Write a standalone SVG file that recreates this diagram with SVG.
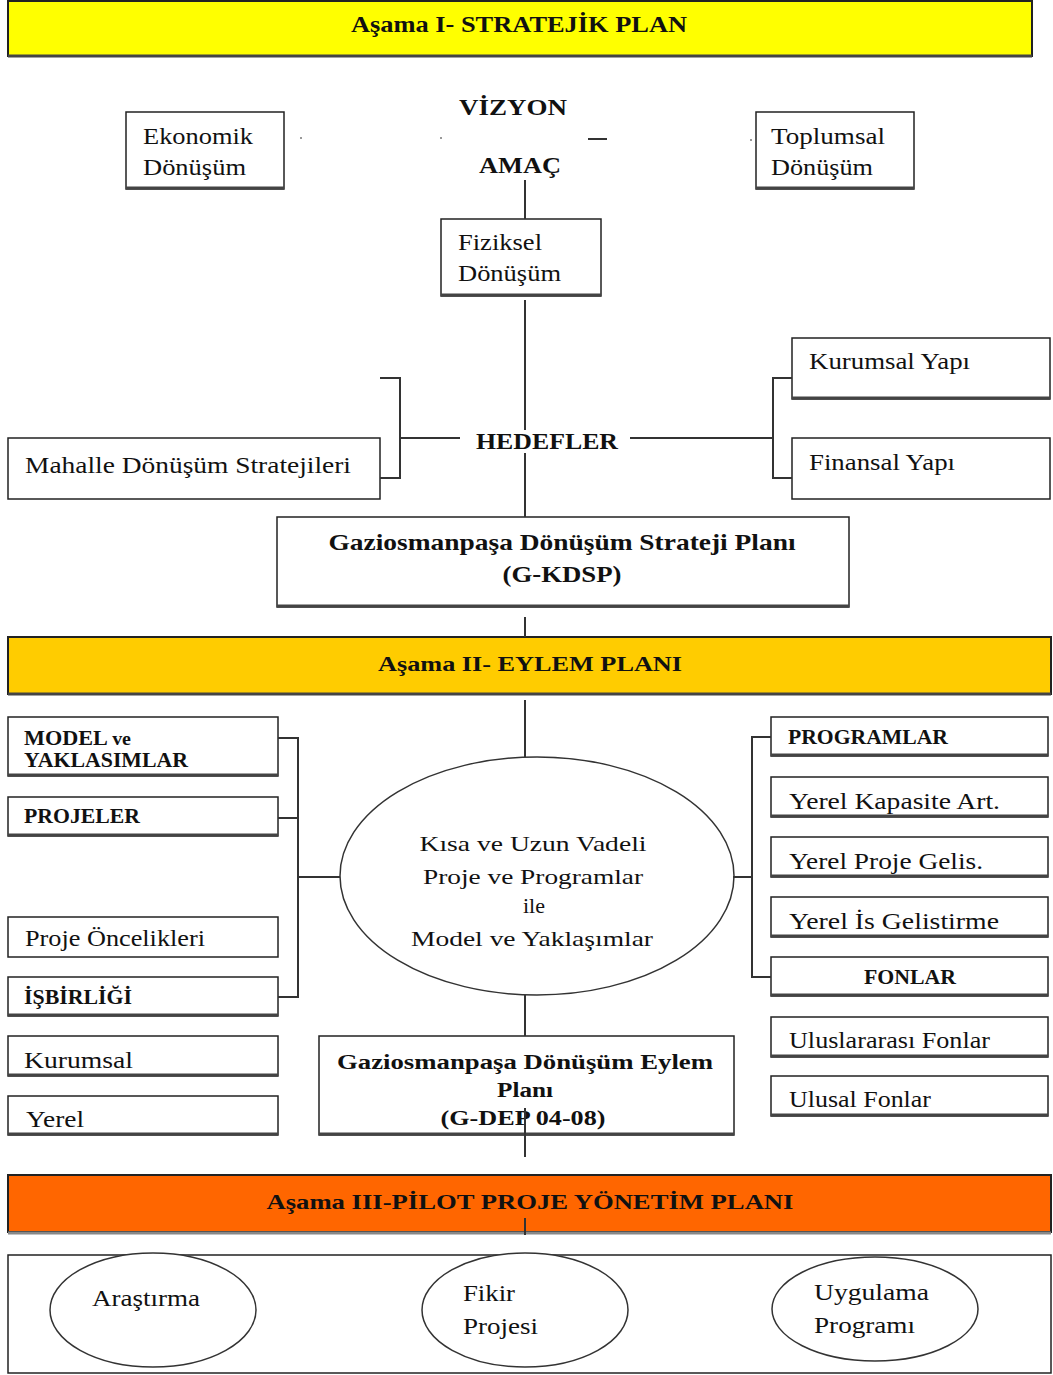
<svg xmlns="http://www.w3.org/2000/svg" width="1053" height="1375" viewBox="0 0 1053 1375">
<style>
text{font-family:"Liberation Serif","Times New Roman",serif;fill:#111}
.b{font-weight:bold}
.box{fill:#fff;stroke:#222;stroke-width:1.5}
.sh{stroke:#444;stroke-width:3;fill:none}
.ln{stroke:#333;stroke-width:2;fill:none}
.ell{fill:#fff;stroke:#333;stroke-width:1.5}
.n{font-size:24px}
.m{font-size:20px;font-weight:bold}
.h{font-size:24px;font-weight:bold}
</style>
<rect width="1053" height="1375" fill="#fff"/>

<g id="banner1">
<rect x="8" y="1" width="1024" height="55" fill="#ffff00" stroke="#222" stroke-width="2"/>
<line class="sh" x1="8" y1="56" x2="1032" y2="56"/>
<text class="h" x="519" y="32" text-anchor="middle" textLength="336" lengthAdjust="spacingAndGlyphs">Aşama I- STRATEJİK PLAN</text>
</g>

<g id="vizyon"><text class="h" x="513" y="115" text-anchor="middle" textLength="108" lengthAdjust="spacingAndGlyphs">VİZYON</text></g>
<g id="amac"><text class="h" x="520" y="173" text-anchor="middle" textLength="82" lengthAdjust="spacingAndGlyphs">AMAÇ</text></g>

<g id="ekonomik">
<rect class="box" x="126" y="112" width="158" height="77"/>
<line class="sh" x1="126" y1="188" x2="284" y2="188"/>
<text class="n" x="143" y="144" textLength="110" lengthAdjust="spacingAndGlyphs">Ekonomik</text>
<text class="n" x="143" y="175" textLength="103" lengthAdjust="spacingAndGlyphs">Dönüşüm</text>
</g>

<g id="toplumsal">
<rect class="box" x="756" y="112" width="158" height="77"/>
<line class="sh" x1="756" y1="188" x2="914" y2="188"/>
<text class="n" x="771" y="144" textLength="114" lengthAdjust="spacingAndGlyphs">Toplumsal</text>
<text class="n" x="771" y="175" textLength="102" lengthAdjust="spacingAndGlyphs">Dönüşüm</text>
</g>

<g id="fiziksel">
<rect class="box" x="441" y="219" width="160" height="77"/>
<line class="sh" x1="441" y1="295" x2="601" y2="295"/>
<text class="n" x="458" y="250" textLength="84" lengthAdjust="spacingAndGlyphs">Fiziksel</text>
<text class="n" x="458" y="281" textLength="103" lengthAdjust="spacingAndGlyphs">Dönüşüm</text>
</g>

<g id="hedefler"><text class="h" x="547" y="449" text-anchor="middle" textLength="142" lengthAdjust="spacingAndGlyphs">HEDEFLER</text></g>

<g id="kurumsal-yapi">
<rect class="box" x="792" y="338" width="258" height="61"/>
<line class="sh" x1="792" y1="398" x2="1050" y2="398"/>
<text class="n" x="809" y="369" textLength="161" lengthAdjust="spacingAndGlyphs">Kurumsal Yapı</text>
</g>

<g id="finansal-yapi">
<rect class="box" x="792" y="438" width="258" height="61"/>
<text class="n" x="809" y="470" textLength="146" lengthAdjust="spacingAndGlyphs">Finansal Yapı</text>
</g>

<g id="mahalle">
<rect class="box" x="8" y="438" width="372" height="61"/>
<text class="n" x="25" y="473" textLength="326" lengthAdjust="spacingAndGlyphs">Mahalle Dönüşüm Stratejileri</text>
</g>

<g id="gkdsp">
<rect class="box" x="277" y="517" width="572" height="90"/>
<line class="sh" x1="277" y1="606" x2="849" y2="606"/>
<text class="h" x="562" y="550" text-anchor="middle" textLength="467" lengthAdjust="spacingAndGlyphs">Gaziosmanpaşa Dönüşüm Strateji Planı</text>
<text class="h" x="562" y="582" text-anchor="middle" textLength="119" lengthAdjust="spacingAndGlyphs">(G-KDSP)</text>
</g>

<g id="banner2">
<rect x="8" y="637" width="1043" height="57" fill="#ffcc00" stroke="#222" stroke-width="2"/>
<line class="sh" x1="8" y1="694" x2="1051" y2="694"/>
<text class="b" x="530" y="671" font-size="21" text-anchor="middle" textLength="304" lengthAdjust="spacingAndGlyphs">Aşama II- EYLEM PLANI</text>
</g>

<g id="model">
<rect class="box" x="8" y="717" width="270" height="59"/>
<line class="sh" x1="8" y1="775" x2="278" y2="775"/>
<text class="m" x="24" y="745" textLength="107" lengthAdjust="spacingAndGlyphs">MODEL <tspan font-size="18">ve</tspan></text>
<text class="m" x="24" y="767" textLength="164" lengthAdjust="spacingAndGlyphs">YAKLASIMLAR</text>
</g>
<g id="projeler">
<rect class="box" x="8" y="797" width="270" height="39"/>
<line class="sh" x1="8" y1="835" x2="278" y2="835"/>
<text class="m" x="24" y="823" textLength="116" lengthAdjust="spacingAndGlyphs">PROJELER</text>
</g>
<g id="proje-oncelikleri">
<rect class="box" x="8" y="917" width="270" height="40"/>
<text class="n" x="25" y="946" font-size="23" textLength="180" lengthAdjust="spacingAndGlyphs">Proje Öncelikleri</text>
</g>
<g id="isbirligi">
<rect class="box" x="8" y="977" width="270" height="39"/>
<line class="sh" x1="8" y1="1015" x2="278" y2="1015"/>
<text class="m" x="24" y="1004" textLength="108" lengthAdjust="spacingAndGlyphs">İŞBİRLİĞİ</text>
</g>
<g id="kurumsal">
<rect class="box" x="8" y="1036" width="270" height="40"/>
<line class="sh" x1="8" y1="1075" x2="278" y2="1075"/>
<text class="n" x="24" y="1068" textLength="109" lengthAdjust="spacingAndGlyphs">Kurumsal</text>
</g>
<g id="yerel">
<rect class="box" x="8" y="1096" width="270" height="39"/>
<line class="sh" x1="8" y1="1134" x2="278" y2="1134"/>
<text class="n" x="26" y="1127" textLength="58" lengthAdjust="spacingAndGlyphs">Yerel</text>
</g>

<g id="center-ellipse">
<ellipse class="ell" cx="537" cy="876" rx="197" ry="119"/>
<text x="533" y="851" font-size="22" text-anchor="middle" textLength="227" lengthAdjust="spacingAndGlyphs">Kısa ve Uzun Vadeli</text>
<text x="533" y="884" font-size="22" text-anchor="middle" textLength="220" lengthAdjust="spacingAndGlyphs">Proje ve Programlar</text>
<text x="534" y="913" font-size="22" text-anchor="middle">ile</text>
<text x="532" y="946" font-size="22" text-anchor="middle" textLength="242" lengthAdjust="spacingAndGlyphs">Model ve Yaklaşımlar</text>
</g>

<g id="gdep">
<rect class="box" x="319" y="1036" width="415" height="99"/>
<line class="sh" x1="319" y1="1134" x2="734" y2="1134"/>
<text class="m" x="525" y="1069" text-anchor="middle" textLength="376" lengthAdjust="spacingAndGlyphs">Gaziosmanpaşa  Dönüşüm Eylem</text>
<text class="m" x="525" y="1097" text-anchor="middle" textLength="56" lengthAdjust="spacingAndGlyphs">Planı</text>
<text class="m" x="523" y="1125" text-anchor="middle" textLength="165" lengthAdjust="spacingAndGlyphs">(G-DEP 04-08)</text>
</g>

<g id="programlar">
<rect class="box" x="771" y="717" width="277" height="39"/>
<line class="sh" x1="771" y1="755" x2="1048" y2="755"/>
<text class="m" x="788" y="744" textLength="160" lengthAdjust="spacingAndGlyphs">PROGRAMLAR</text>
</g>
<g id="kapasite">
<rect class="box" x="771" y="777" width="277" height="40"/>
<line class="sh" x1="771" y1="816" x2="1048" y2="816"/>
<text class="n" x="789" y="809" textLength="211" lengthAdjust="spacingAndGlyphs">Yerel Kapasite Art.</text>
</g>
<g id="proje-gelis">
<rect class="box" x="771" y="837" width="277" height="40"/>
<line class="sh" x1="771" y1="876" x2="1048" y2="876"/>
<text class="n" x="789" y="869" textLength="194" lengthAdjust="spacingAndGlyphs">Yerel Proje Gelis.</text>
</g>
<g id="is-gelistirme">
<rect class="box" x="771" y="897" width="277" height="40"/>
<line class="sh" x1="771" y1="936" x2="1048" y2="936"/>
<text class="n" x="789" y="929" textLength="210" lengthAdjust="spacingAndGlyphs">Yerel İs Gelistirme</text>
</g>
<g id="fonlar">
<rect class="box" x="771" y="957" width="277" height="39"/>
<line class="sh" x1="771" y1="995" x2="1048" y2="995"/>
<text class="m" x="910" y="984" text-anchor="middle" textLength="92" lengthAdjust="spacingAndGlyphs">FONLAR</text>
</g>
<g id="uluslararasi">
<rect class="box" x="771" y="1017" width="277" height="40"/>
<line class="sh" x1="771" y1="1056" x2="1048" y2="1056"/>
<text class="n" x="789" y="1048" textLength="201" lengthAdjust="spacingAndGlyphs">Uluslararası Fonlar</text>
</g>
<g id="ulusal">
<rect class="box" x="771" y="1076" width="277" height="40"/>
<line class="sh" x1="771" y1="1115" x2="1048" y2="1115"/>
<text class="n" x="789" y="1107" textLength="142" lengthAdjust="spacingAndGlyphs">Ulusal Fonlar</text>
</g>

<g id="banner3">
<rect x="8" y="1175" width="1043" height="57" fill="#ff6600" stroke="#222" stroke-width="2"/>
<line stroke="#888" stroke-width="3" x1="8" y1="1233" x2="1051" y2="1233"/>
<text class="b" x="530" y="1209" font-size="21" text-anchor="middle" textLength="527" lengthAdjust="spacingAndGlyphs">Aşama III-PİLOT PROJE  YÖNETİM PLANI</text>
</g>

<g id="pilot-box">
<rect class="box" x="8" y="1255" width="1043" height="118" stroke-width="2"/>
</g>
<g id="arastirma">
<ellipse class="ell" cx="153" cy="1310" rx="103" ry="57" stroke="#222"/>
<text class="n" x="92" y="1306" textLength="108" lengthAdjust="spacingAndGlyphs">Araştırma</text>
</g>
<g id="fikir">
<ellipse class="ell" cx="525" cy="1310" rx="103" ry="57" stroke="#222"/>
<text class="n" x="463" y="1301" textLength="52" lengthAdjust="spacingAndGlyphs">Fikir</text>
<text class="n" x="463" y="1334" textLength="75" lengthAdjust="spacingAndGlyphs">Projesi</text>
</g>
<g id="uygulama">
<ellipse class="ell" cx="875" cy="1309" rx="103" ry="52" stroke="#222"/>
<text class="n" x="814" y="1300" textLength="115" lengthAdjust="spacingAndGlyphs">Uygulama</text>
<text class="n" x="814" y="1333" textLength="101" lengthAdjust="spacingAndGlyphs">Programı</text>
</g>

<g id="connectors">
<line class="ln" x1="525" y1="180" x2="525" y2="219"/>
<line class="ln" x1="525" y1="300" x2="525" y2="430"/>
<line class="ln" x1="525" y1="453" x2="525" y2="517"/>
<line class="ln" x1="525" y1="617" x2="525" y2="637"/>
<line class="ln" x1="525" y1="700" x2="525" y2="757"/>
<line class="ln" x1="525" y1="995" x2="525" y2="1036"/>
<line class="ln" x1="525" y1="1108" x2="525" y2="1157"/>
<line class="ln" x1="525" y1="1218" x2="525" y2="1235"/>
<polyline class="ln" points="380,378 400,378 400,478 380,478"/>
<line class="ln" x1="400" y1="438" x2="460" y2="438"/>
<polyline class="ln" points="792,378 773,378 773,478 792,478"/>
<line class="ln" x1="630" y1="438" x2="773" y2="438"/>
<line class="ln" x1="588" y1="139" x2="607" y2="139"/>
<line stroke="#777" stroke-width="1.5" x1="300" y1="138" x2="302" y2="138"/>
<line stroke="#777" stroke-width="1.5" x1="440" y1="138" x2="442" y2="138"/>
<line stroke="#777" stroke-width="1.5" x1="750" y1="140" x2="752" y2="140"/>
<polyline class="ln" points="278,738 298,738 298,997 278,997"/>
<line class="ln" x1="278" y1="818" x2="298" y2="818"/>
<line class="ln" x1="298" y1="877" x2="340" y2="877"/>
<polyline class="ln" points="771,737 752,737 752,977 771,977"/>
<line class="ln" x1="733" y1="877" x2="752" y2="877"/>
</g>
</svg>
